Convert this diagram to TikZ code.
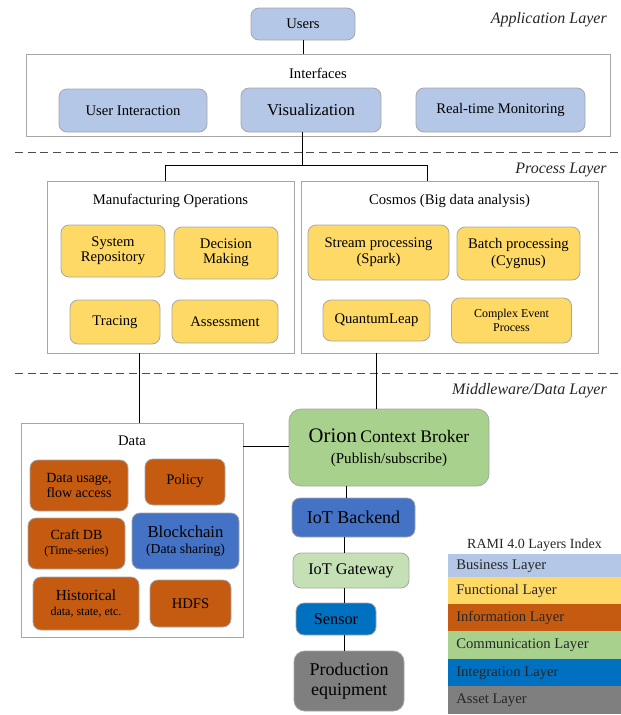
\documentclass[tikz,border=0pt]{standalone}
\usepackage{fontspec}
\setmainfont{Liberation Serif}
\definecolor{cBiz}{HTML}{B4C7E7}
\definecolor{cFun}{HTML}{FFD966}
\definecolor{cInf}{HTML}{C55A11}
\definecolor{cCom}{HTML}{A9D18E}
\definecolor{cBlu}{HTML}{4472C4}
\definecolor{cLgr}{HTML}{C5E0B4}
\definecolor{cInt}{HTML}{0070C0}
\definecolor{cAss}{HTML}{7F7F7F}
\definecolor{cEdge}{HTML}{A6A6A6}
\newcommand{\fs}[1]{\pgfmathsetmacro\fsb{#1*1.2}\fontsize{#1}{\fsb}\selectfont}
\tikzset{
  rbox/.style={draw=cEdge, line width=0.6pt, rounded corners=6pt, align=center, inner sep=1pt, text=black},
  cont/.style={draw=cEdge, line width=0.6pt, inner sep=0pt},
  lbl/.style={inner sep=0pt, text=black},
  lay/.style={inner sep=0pt, font=\itshape\fs{12}, text=black!85, anchor=east},
  conn/.style={draw=black, line width=0.7pt},
  sep/.style={draw=black!70, line width=0.7pt, dash pattern=on 6pt off 3.5pt},
  leg/.style={minimum width=129.75pt, minimum height=20.6pt, inner sep=0pt, anchor=north west},
  legt/.style={inner sep=0pt, anchor=west, font=\fs{11}, text=black!85}
}
\begin{document}
\begin{tikzpicture}[x=0.75pt, y=-0.75pt]
\useasboundingbox (0,0) rectangle (621,715);
% layer separators
\path[sep] (15,152) coordinate (s1a) -- (621,152) coordinate (s1b);
\path[sep] (15,373) coordinate (s2a) -- (621,373) coordinate (s2b);
\node[lay] (la) at (607,20) {Application Layer};
\node[lay] (lp) at (607,170) {Process Layer};
\node[lay] (lm) at (607,391) {Middleware/Data Layer};

% application layer
\node[rbox, fill=cBiz, minimum width=78pt, minimum height=24pt, font=\fs{11}] (users) at (303,24) {Users};
\node[cont, minimum width=438pt, minimum height=61.5pt] (intf) at (318,95) {};
\node[lbl, font=\fs{11}] (intfl) at (318,73) {Interfaces};
\node[rbox, fill=cBiz, minimum width=111pt, minimum height=32.25pt, font=\fs{11}] (ui) at (133,110.5) {User Interaction};
\node[rbox, fill=cBiz, minimum width=105pt, minimum height=33pt, font=\fs{12.5}] (vis) at (311,110) {Visualization};
\node[rbox, fill=cBiz, minimum width=126.75pt, minimum height=33pt, font=\fs{11}] (rtm) at (500.5,110) {Real-time Monitoring};

% process layer
\node[cont, minimum width=185.25pt, minimum height=129pt] (mo) at (170.5,267) {};
\node[lbl, font=\fs{11}] (mol) at (170.5,201) {Manufacturing Operations};
\node[cont, minimum width=222.75pt, minimum height=129pt] (cos) at (449.5,267) {};
\node[lbl, font=\fs{11}] (cosl) at (449.5,201) {Cosmos (Big data analysis)};
\node[rbox, fill=cFun, minimum width=78pt, minimum height=39pt, font=\fs{11}] (sr) at (113,251) {System\\[-2pt]Repository};
\node[rbox, fill=cFun, minimum width=78pt, minimum height=39pt, font=\fs{11}] (dm) at (226,253) {Decision\\[-2pt]Making};
\node[rbox, fill=cFun, minimum width=67.5pt, minimum height=33pt, font=\fs{11}] (tr) at (115,322) {Tracing};
\node[rbox, fill=cFun, minimum width=79.5pt, minimum height=32.25pt, font=\fs{11}] (as) at (225,321.5) {Assessment};
\node[rbox, fill=cFun, minimum width=105.75pt, minimum height=41.25pt, font=\fs{11}] (sp) at (378.5,252.5) {Stream processing\\[-1pt](Spark)};
\node[rbox, fill=cFun, minimum width=92.25pt, minimum height=39.75pt, font=\fs{11}] (bp) at (518.5,253.5) {Batch processing\\[-1pt](Cygnus)};
\node[rbox, fill=cFun, minimum width=80.25pt, minimum height=30.75pt, font=\fs{11}] (ql) at (376.5,320.5) {QuantumLeap};
\node[rbox, fill=cFun, minimum width=90pt, minimum height=33.75pt, font=\fs{9}] (cep) at (511.5,320.5) {Complex Event\\Process};

% data layer
\node[cont, minimum width=166.5pt, minimum height=160.5pt] (data) at (132,530) {};
\node[lbl, font=\fs{11}] (datal) at (132,441) {Data};
\node[rbox, fill=cInf, minimum width=73.5pt, minimum height=38.25pt, font=\fs{10.5}] (du) at (79,485.5) {Data usage,\\[-2pt]flow access};
\node[rbox, fill=cInf, minimum width=60pt, minimum height=34.5pt, font=\fs{11}] (pol) at (185,482) {\raisebox{4pt}{Policy}};
\node[rbox, fill=cInf, minimum width=72.75pt, minimum height=38.25pt] (cdb) at (76.5,543.5) {{\fs{10.5}Craft DB}\\[-1pt]{\fs{9}(Time-series)}};
\node[rbox, fill=cBlu, minimum width=80.25pt, minimum height=42pt] (bc) at (185.5,541) {{\fs{12.5}Blockchain}\\[0pt]{\fs{10.3}(Data sharing)}};
\node[rbox, fill=cInf, minimum width=79.5pt, minimum height=39.75pt] (hist) at (86,603.5) {{\fs{11.5}Historical}\\[-1pt]{\fs{9}data, state, etc.}};
\node[rbox, fill=cInf, minimum width=60.75pt, minimum height=35.25pt, font=\fs{11}] (hdfs) at (190.5,603.5) {HDFS};

% middleware chain
\node[rbox, fill=cCom, rounded corners=9pt, minimum width=150pt, minimum height=57.75pt] (orion) at (389,447.5) {{\fs{15.5}Orion} {\fs{13.2}Context Broker}\\[4pt]{\fs{11.3}(Publish/subscribe)}};
\node[rbox, fill=cBlu, minimum width=92.25pt, minimum height=29.25pt, font=\fs{13.5}] (be) at (353.5,517.5) {IoT Backend};
\node[rbox, fill=cLgr, minimum width=87pt, minimum height=26.25pt, font=\fs{12.2}] (gw) at (351,570.5) {IoT Gateway};
\node[rbox, fill=cInt, minimum width=60pt, minimum height=24pt, font=\fs{12.2}] (sen) at (336,619) {Sensor};
\node[rbox, fill=cAss, rounded corners=8pt, minimum width=82.5pt, minimum height=45pt, font=\fs{13.5}] (prod) at (349,681) {Production\\[-1pt]equipment};

% connectors
\draw[conn] (users.south) -- (users.south |- intf.north);
\coordinate (hj) at (302,165);
\draw[conn] (vis.south -| hj) -- (hj);
\draw[conn] (mo.north -| 165,0) -- (165,165) -- (427,165) -- (cos.north -| 427,0);
\draw[conn] (mo.south -| 139,0) -- (data.north -| 139,0);
\draw[conn] (cos.south -| 376,0) -- (orion.north -| 376,0);
\draw[conn] (data.east |- 0,446) -- (orion.west |- 0,446);
\draw[conn] (orion.south -| 346,0) -- (be.north -| 346,0);
\draw[conn] (be.south -| 344,0) -- (gw.north -| 344,0);
\draw[conn] (gw.south -| 344,0) -- (sen.north -| 344,0);
\draw[conn] (sen.south -| 344,0) -- (prod.north -| 344,0);

% legend
\node[inner sep=0pt, font=\fs{10.5}, text=black!85] (legt) at (534.5,545) {RAMI 4.0 Layers Index};
\node[leg, fill=cBiz, minimum height=17.25pt] (l1) at (448,554) {};
\node[leg, fill=cFun] (l2) at (448,577) {};
\node[leg, fill=cInf] (l3) at (448,604) {};
\node[leg, fill=cCom] (l4) at (448,631) {};
\node[leg, fill=cInt] (l5) at (448,659) {};
\node[leg, fill=cAss] (l6) at (448,686) {};
\node[legt] at ([xshift=6pt]l1.west) {Business Layer};
\node[legt] at ([xshift=6pt]l2.west) {Functional Layer};
\node[legt] at ([xshift=6pt]l3.west) {Information Layer};
\node[legt] at ([xshift=6pt]l4.west) {Communication Layer};
\node[legt] at ([xshift=6pt]l5.west) {Integration Layer};
\node[legt] at ([xshift=6pt]l6.west) {Asset Layer};
\end{tikzpicture}
\end{document}
